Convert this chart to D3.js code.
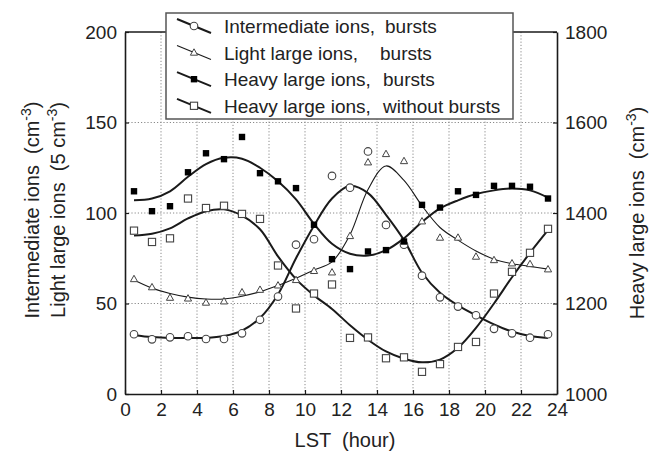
<!DOCTYPE html>
<html><head><meta charset="utf-8">
<script src="https://cdn.jsdelivr.net/npm/d3@7"></script>
<style>
html,body{margin:0;padding:0;background:#fff;}
svg{display:block;font-family:"Liberation Sans",Arial,sans-serif;}
text{white-space:pre;}
</style></head>
<body><svg id="c" width="650" height="453"></svg>
<script>
// ---- data ----
const hours = [0.5,1.5,2.5,3.5,4.5,5.5,6.5,7.5,8.5,9.5,10.5,11.5,12.5,13.5,14.5,15.5,16.5,17.5,18.5,19.5,20.5,21.5,22.5,23.5];
// left axis (cm^-3 / 5 cm^-3)
const interPts  = [33,30.2,31.3,31.9,30.4,30.4,33.5,41,53.8,82.5,85.5,120.5,114,134,93.4,82.5,65.4,53.4,48.3,43.5,36,33.5,31.1,33];
const interFit  = [32.5,31.5,31,31,31,32,35,42,55,75,93,108,115,111,99,85,67,56,49,43.5,38.5,34.5,32,31];
const lightPts  = [63.5,59,53.2,52.8,50.5,51.2,56.2,57.6,60,63,68,67.2,87.3,128,132.6,128.7,95.4,86.4,86.4,75.9,74,72.2,71.8,68.9];
const lightFit  = [63,58.5,55.5,53.5,52.5,52.5,54,56.5,60,64,68.5,73,88,113,126,118,104,92,85,79,74.5,72,70.5,69];
// right axis (cm^-3)
const heavyBPts  = [1448,1404,1415,1490,1532,1519,1568,1488,1470,1455,1374,1298,1276,1315,1318,1337,1418,1412,1448,1440,1460,1460,1458,1432];
const heavyBFit  = [1428,1432,1448,1480,1508,1522,1520,1500,1470,1430,1376,1332,1310,1306,1318,1344,1380,1410,1428,1442,1450,1454,1450,1434];
const heavyNPts  = [1361,1336,1344,1432,1411,1416,1398,1387,1284,1189,1222,1242,1124,1125,1079,1081,1049,1066,1104,1115,1222,1270,1312,1365];
const heavyNFit  = [1350,1354,1366,1388,1404,1408,1394,1364,1304,1254,1218,1188,1152,1120,1094,1078,1070,1076,1102,1146,1200,1258,1312,1362];
const xTicks = [0,2,4,6,8,10,12,14,16,18,20,22,24];
const yLTicks = [0,50,100,150,200];
const yRTicks = [1000,1200,1400,1600,1800];
const legendNames = ["Intermediate ions,","Light large ions,","Heavy large ions,","Heavy large ions,"];
const legendKinds = ["bursts","bursts","bursts","without bursts"];

// ---- layout ----
const L=125,R=557,T=32,B=394;
const x = d3.scaleLinear().domain([0,24]).range([L,R]);
const yL = d3.scaleLinear().domain([0,200]).range([B,T]);
const yR = d3.scaleLinear().domain([1000,1800]).range([B,T]);
const svg = d3.select("#c");
const ink="#1a1a1a", mk="#444";

// grid
const g = svg.append("g");
g.selectAll("line.v").data(xTicks.slice(1,-1)).enter().append("line")
 .attr("x1",d=>x(d)).attr("x2",d=>x(d)).attr("y1",T).attr("y2",B)
 .attr("stroke","#8a8a8a").attr("stroke-width",1).attr("stroke-dasharray","1.2,2");
g.selectAll("line.h").data(yLTicks.slice(1,-1)).enter().append("line")
 .attr("x1",L).attr("x2",R).attr("y1",d=>yL(d)).attr("y2",d=>yL(d))
 .attr("stroke","#8a8a8a").attr("stroke-width",1).attr("stroke-dasharray","1.2,2");

// curves
function curve(vals, ys, w){
  const line = d3.line().x((d,i)=>x(hours[i])).y(d=>ys(d)).curve(d3.curveCatmullRom.alpha(0.5));
  svg.append("path").attr("d",line(vals)).attr("fill","none").attr("stroke",ink).attr("stroke-width",w);
}
curve(heavyBFit,yR,2);
curve(heavyNFit,yR,2);
curve(interFit,yL,2);
curve(lightFit,yL,1.1);

// markers
function sym(sel,type){
  if(type==="circle") sel.append("circle").attr("r",3.8).attr("fill","#fff").attr("stroke",mk).attr("stroke-width",1.1);
  else if(type==="tri") sel.append("path").attr("d","M0,-3.8L3.6,2.6L-3.6,2.6Z").attr("fill","#fff").attr("stroke",mk).attr("stroke-width",1);
  else if(type==="fsq") sel.append("rect").attr("x",-3.2).attr("y",-3.2).attr("width",6.4).attr("height",6.4).attr("fill","#000");
  else sel.append("rect").attr("x",-3.6).attr("y",-3.6).attr("width",7.2).attr("height",7.2).attr("fill","#fff").attr("stroke",mk).attr("stroke-width",1.1);
}
function points(vals, ys, type){
  svg.append("g").selectAll("g").data(vals).enter().append("g")
   .attr("transform",(d,i)=>`translate(${x(hours[i])},${ys(d)})`)
   .each(function(){ sym(d3.select(this),type); });
}
points(heavyNPts,yR,"osq");
points(interPts,yL,"circle");
points(lightPts,yL,"tri");
points(heavyBPts,yR,"fsq");

// axes
const fs = "19px";
const ax = svg.append("g").attr("transform",`translate(0,${B})`)
 .call(d3.axisBottom(x).tickValues(xTicks).tickFormat(d3.format("d")).tickSize(-4).tickSizeOuter(0).tickPadding(9));
const ayl = svg.append("g").attr("transform",`translate(${L},0)`)
 .call(d3.axisLeft(yL).tickValues(yLTicks).tickFormat(d3.format("d")).tickSize(-4).tickSizeOuter(0).tickPadding(8));
const ayr = svg.append("g").attr("transform",`translate(${R},0)`)
 .call(d3.axisRight(yR).tickValues(yRTicks).tickFormat(d3.format("d")).tickSize(-4).tickSizeOuter(0).tickPadding(8));
[ax,ayl,ayr].forEach(a=>{
  a.selectAll("text").attr("font-size",fs).attr("fill","#222").attr("font-family","Liberation Sans, Arial, sans-serif");
  a.selectAll("line").attr("stroke",ink).attr("stroke-width",1.2);
  a.select(".domain").attr("stroke",ink).attr("stroke-width",1.6);
});
// top frame
svg.append("line").attr("x1",L).attr("x2",R).attr("y1",T).attr("y2",T).attr("stroke",ink).attr("stroke-width",1.6);

// axis titles
svg.append("text").attr("x",(L+R)/2+4).attr("y",447).attr("text-anchor","middle").attr("font-size","20px").attr("fill","#222").text("LST  (hour)");
function vtitle(cx,cy,main,sup){
  const t = svg.append("text").attr("transform",`translate(${cx},${cy}) rotate(-90)`).attr("text-anchor","middle").attr("font-size","20px").attr("fill","#222");
  t.append("tspan").text(main);
  t.append("tspan").attr("dy",-8).attr("font-size","14px").text(sup);
  t.append("tspan").attr("dy",8).text(")");
}
vtitle(39,210,"Intermediate ions  (cm","-3");
vtitle(65,210,"Light large ions  (5 cm","-3");
vtitle(644,213,"Heavy large ions  (cm","-3");

// legend
const lg = svg.append("g");
lg.append("rect").attr("x",166).attr("y",13).attr("width",347).attr("height",106).attr("fill","#fff").attr("stroke","#555").attr("stroke-width",1.5);
const types=["circle","tri","fsq","osq"];
const kindX=[385,380,383,383];
legendNames.forEach((lab,i)=>{
  const cy = 26 + i*26.6;
  lg.append("line").attr("x1",177).attr("y1",cy-7).attr("x2",211).attr("y2",cy+7)
    .attr("stroke",ink).attr("stroke-width",i===1?1.1:2);
  const m = lg.append("g").attr("transform",`translate(194,${cy})`);
  sym(m,types[i]);
  const t = lg.append("text").attr("x",224).attr("y",cy+7).attr("font-size","19px").attr("fill","#222");
  t.append("tspan").text(lab);
  t.append("tspan").attr("x",kindX[i]).text(legendKinds[i]);
});
</script></body></html>
